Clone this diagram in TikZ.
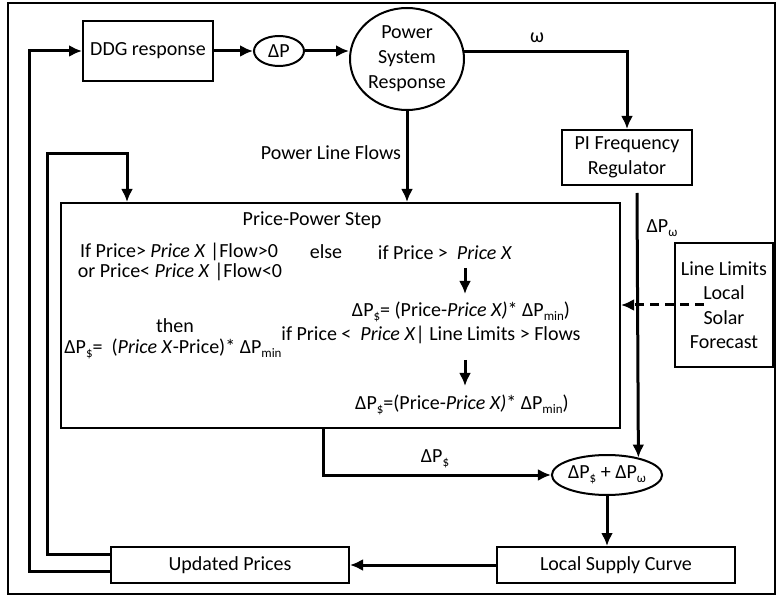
\documentclass[tikz,border=0pt]{standalone}
\usepackage{fontspec}
\setmainfont{Carlito}
\usetikzlibrary{arrows.meta,shapes.geometric}
\newcommand\sbs[1]{\raisebox{-0.22em}{\fontsize{13}{13}\selectfont #1}}
\begin{document}
\begin{tikzpicture}[x=1pt,y=-1pt,
  every node/.style={font=\fontsize{20}{24.5}\selectfont, inner sep=0pt, text=black},
  box/.style={draw, line width=2pt, align=center},
  oval/.style={draw, ellipse, line width=2pt, align=center},
  conn/.style={line width=3pt, line join=miter, -{Latex[length=13pt,width=12pt]}},
  dashconn/.style={line width=3pt, dash pattern=on 9pt off 6pt, -{Latex[length=13pt,width=12pt]}}
]
\useasboundingbox (0,0) rectangle (780,596);
\draw[line width=1.5pt] (8,3) rectangle (775,594);

% nodes
\node[box, minimum width=130, minimum height=60] (ddg) at (148,51) {DDG response};
\node[oval, minimum width=50, minimum height=30] (dp) at (279,51) {ΔP};
\node[oval, minimum width=114, minimum height=102, font=\fontsize{20}{25}\selectfont] (psr) at (407,59) {Power\\System\\Response};
\node[box, minimum width=130, minimum height=55] (pi) at (627,157.5) {PI Frequency\\Regulator};
\node[box, minimum width=559, minimum height=225] (main) at (340.5,315.5) {};
\node[box, minimum width=98, minimum height=124] (lim) at (724,305) {Line Limits\\Local\\Solar\\Forecast};
\node[oval, minimum width=97, minimum height=40] (ell) at (607,475) {ΔP\sbs{\$} + ΔP\sbs{ω}};
\node[box, minimum width=238, minimum height=36] (lsc) at (616,565) {Local Supply Curve};
\node[box, minimum width=238, minimum height=36] (up) at (230,565) {Updated Prices};

% texts in main box
\node (title) at (312,220) {Price-Power Step};
\node (l1) at (179,252) {If Price> \textit{Price X} |Flow>0};
\node (l2) at (180,272) {or Price< \textit{Price X} |Flow<0};
\node (else) at (326,252) {else};
\node (l3) at (175,326) {then};
\node (l4) at (173,349) {ΔP\sbs{\$}=\ \ (\textit{Price X}-Price)* ΔP\sbs{min}};
\node (r1) at (445,253) {if Price >\ \ \textit{Price X}};
\node (r2) at (461,312) {ΔP\sbs{\$}= (Price-\textit{Price X)}* ΔP\sbs{min})};
\node (r3) at (431,335) {if Price <\ \ \textit{Price X}| Line Limits > Flows};
\node (r4) at (462,405) {ΔP\sbs{\$}=(Price-\textit{Price X)}* ΔP\sbs{min})};
\coordinate (a1s) at (465,268);
\coordinate (a1e) at (465,294);
\coordinate (a2s) at (465,360);
\coordinate (a2e) at (465,386);
\draw[conn] (a1s) -- (a1e);
\draw[conn] (a2s) -- (a2e);

% labels
\node (omega) at (537,38) {ω};
\node (plf) at (331,153) {Power Line Flows};
\node (dps) at (435,459) {ΔP\sbs{\$}};
\node (dpw) at (662,228) {ΔP\sbs{ω}};

% connectors
\draw[conn] (ddg) -- (dp);
\draw[conn] (dp.east) -- (dp.east -| psr.west);
\draw[conn] (psr.7) -| (pi.north);
\draw[conn] (psr.south) -- (psr.south |- main.north);
\draw[conn] ([xshift=10pt,yshift=-7pt]pi.south) -- (ell.29);
\coordinate (ms) at ([xshift=-17.5pt]main.south);
\draw[conn] (ms) |- (ell.west);
\coordinate (dsh) at (704,305);
\draw[dashconn] (dsh) -- (dsh -| main.east);
\draw[conn] (ell.south) -- (ell.south |- lsc.north);
\draw[conn] (lsc.west) -- (up.east);
\coordinate (c1) at (47,154);
\draw[conn] ([yshift=11pt]up.west) -| (c1) -| ([xshift=-213.5pt]main.north);
\coordinate (c2) at (29,51);
\draw[conn] ([yshift=-6pt]up.west) -| (c2) |- (ddg.west);
\end{tikzpicture}
\end{document}
